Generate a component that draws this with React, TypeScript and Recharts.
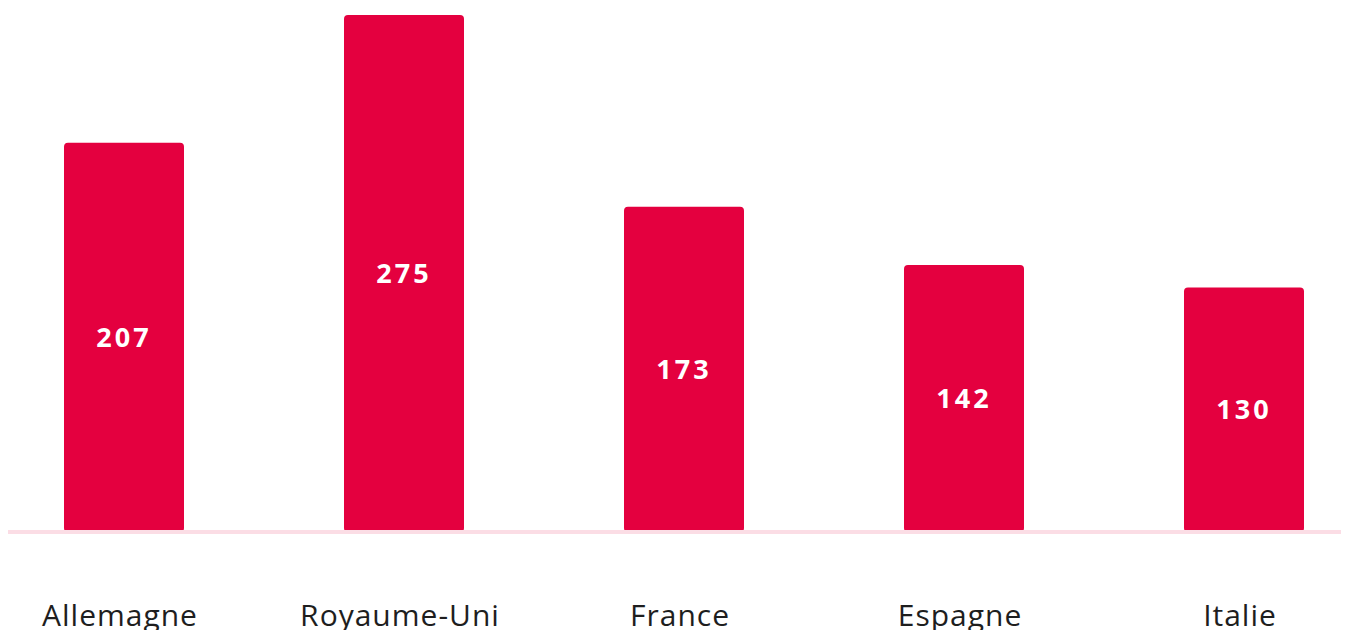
import React from 'react';
import { BarChart, Bar, XAxis, YAxis, ReferenceLine, LabelList } from 'recharts';

const countries = ['Allemagne', 'Royaume-Uni', 'France', 'Espagne', 'Italie'];
const counts = [207, 275, 173, 142, 130];

const data = countries.map((name, i) => ({ name, value: counts[i] }));

const RED = '#e4003f';
const FONT = '"Open Sans", "DejaVu Sans", sans-serif';

const CountryTick = (props: any) => {
  const { x, y, payload } = props;
  return (
    <text
      x={x - 4}
      y={y}
      dy={94}
      textAnchor="middle"
      fill="#1e1e1e"
      fontSize={30}
      letterSpacing={1}
      fontFamily={FONT}
    >
      {payload.value}
    </text>
  );
};

export default function App() {
  return (
    <div style={{ width: 1338, height: 622, overflow: 'hidden' }}>
      <div style={{ marginLeft: -24 }}>
        <BarChart width={1400} height={640} data={data} margin={{ top: 7, right: 0, bottom: 0, left: 0 }}>
          <XAxis
            dataKey="name"
            axisLine={false}
            tickLine={false}
            tickSize={0}
            tickMargin={0}
            height={116}
            interval={0}
            tick={<CountryTick />}
          />
          <YAxis hide domain={[0, 275]} />
          <ReferenceLine y={0} stroke="#fbdde5" strokeWidth={4} />
          <Bar dataKey="value" fill={RED} barSize={120} radius={4} isAnimationActive={false}>
            <LabelList
              dataKey="value"
              position="center"
              fill="#ffffff"
              style={{ fontSize: 27, fontWeight: 700, letterSpacing: 3, fontFamily: FONT }}
            />
          </Bar>
        </BarChart>
      </div>
    </div>
  );
}
